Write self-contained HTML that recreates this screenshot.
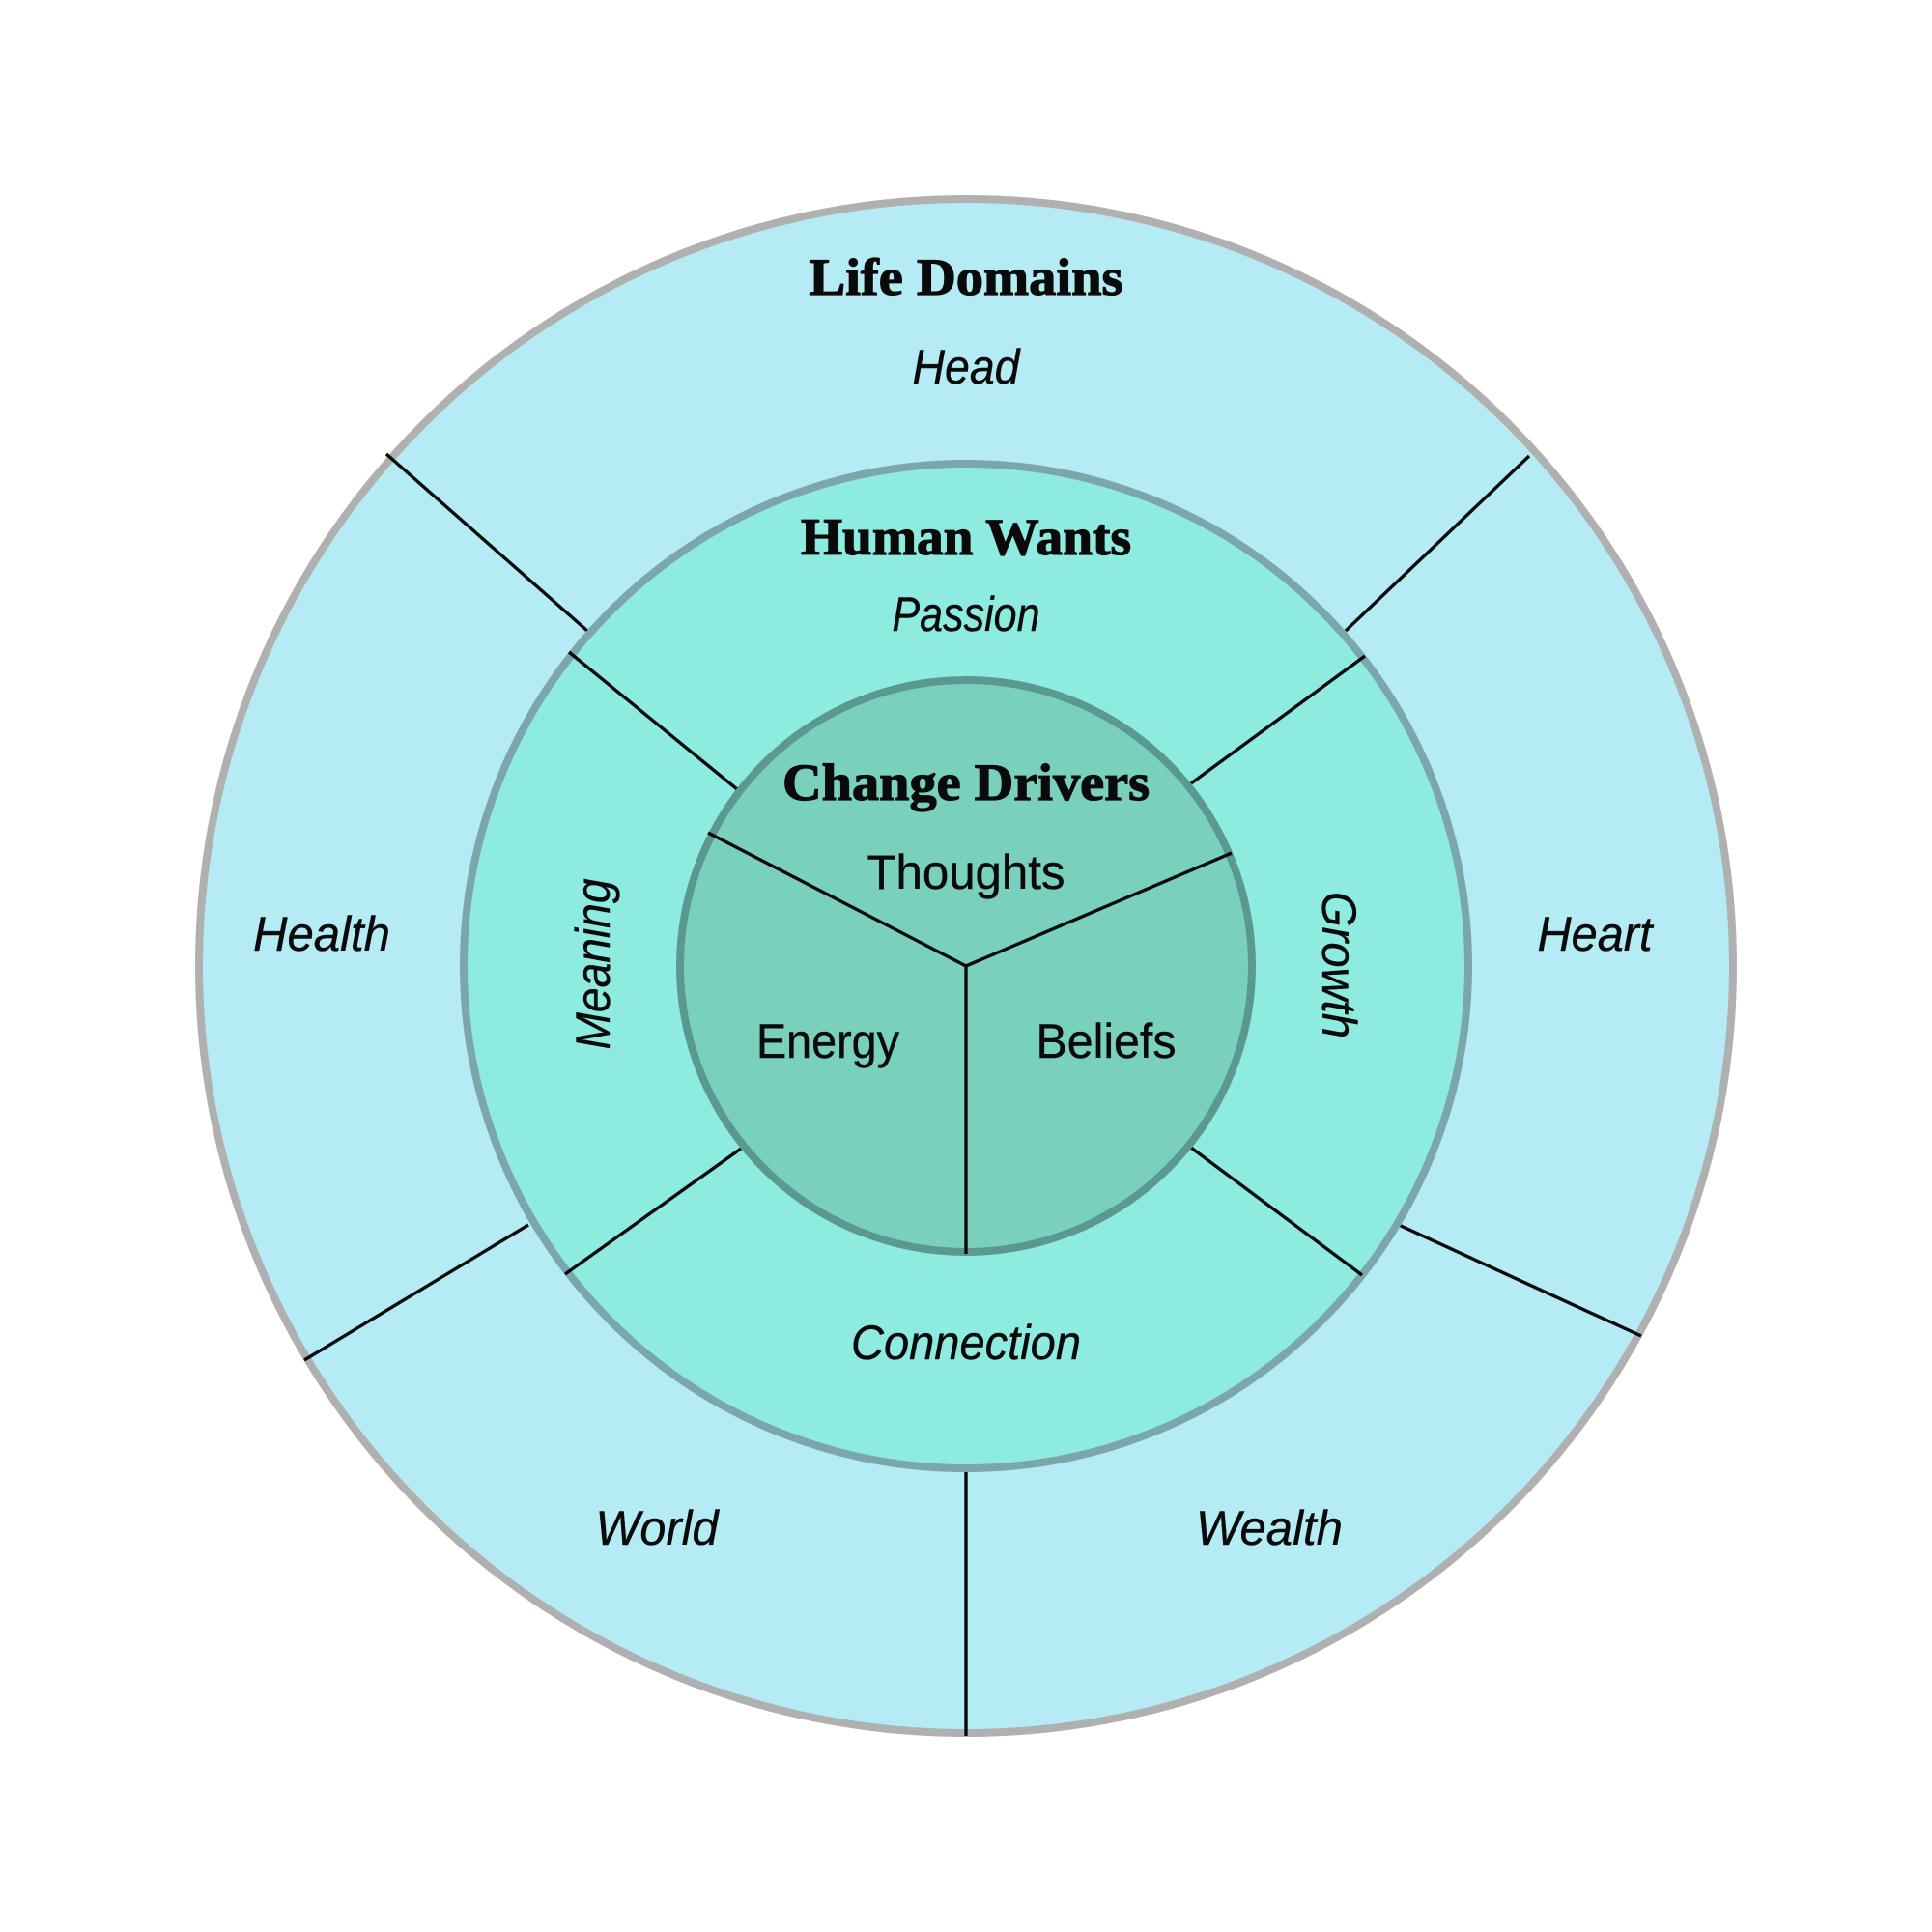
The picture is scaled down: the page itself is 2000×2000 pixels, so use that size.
<!DOCTYPE html>
<html>
<head>
<meta charset="utf-8">
<style>
  html, body { margin: 0; padding: 0; background: #ffffff; }
  svg { display: block; }
  .hd { font-family: "Liberation Serif", serif; font-weight: bold; font-size: 54px; fill: #0a0a0a; stroke: #0a0a0a; stroke-width: 1.2px; }
  .it { font-family: "Liberation Sans", sans-serif; font-style: italic; font-size: 50px; fill: #0a0a0a; stroke: #0a0a0a; stroke-width: 0.4px; }
  .rg { font-family: "Liberation Sans", sans-serif; font-size: 50px; fill: #0a0a0a; stroke: #0a0a0a; stroke-width: 0.4px; }
</style>
</head>
<body>
<svg width="2000" height="2000" viewBox="0 0 2000 2000" xmlns="http://www.w3.org/2000/svg">
  <rect x="0" y="0" width="2000" height="2000" fill="#ffffff"/>

  <!-- Outer ring -->
  <circle cx="1000" cy="1000" r="794" fill="#b4ebf4" stroke="#b0b0b0" stroke-width="8"/>
  <g stroke="#0a0a0a" stroke-width="3.4" stroke-linecap="butt">
    <line x1="400" y1="470" x2="608" y2="653"/>
    <line x1="1583" y1="472" x2="1393" y2="653"/>
    <line x1="1699" y1="1383" x2="1448" y2="1268"/>
    <line x1="315" y1="1408" x2="547" y2="1268"/>
    <line x1="1000" y1="1523" x2="1000" y2="1797"/>
  </g>

  <!-- Middle ring -->
  <circle cx="1000" cy="1000" r="520" fill="#8eebdf" stroke="#7ba6ac" stroke-width="8"/>
  <g stroke="#0a0a0a" stroke-width="3.4">
    <line x1="589" y1="675" x2="763" y2="817"/>
    <line x1="1413" y1="679" x2="1233" y2="811"/>
    <line x1="1410" y1="1320" x2="1233" y2="1188"/>
    <line x1="585" y1="1319" x2="767" y2="1189"/>
  </g>

  <!-- Inner circle -->
  <circle cx="1000" cy="1000" r="296" fill="#79d1bd" stroke="#5b9990" stroke-width="8"/>
  <g stroke="#0a0a0a" stroke-width="3.4" stroke-linejoin="miter">
    <polyline points="733,862 1000,1000 1275,883" fill="none"/>
    <line x1="1000" y1="1000" x2="1000" y2="1298"/>
  </g>

  <!-- Headings -->
  <text class="hd" x="1000" y="305" text-anchor="middle" textLength="325" lengthAdjust="spacingAndGlyphs">Life Domains</text>
  <text class="hd" x="1000" y="574" text-anchor="middle" textLength="342" lengthAdjust="spacingAndGlyphs">Human Wants</text>
  <text class="hd" x="1000" y="828" text-anchor="middle" textLength="380" lengthAdjust="spacingAndGlyphs">Change Drivers</text>

  <!-- Outer ring labels -->
  <text class="it" x="1000" y="397" text-anchor="middle" textLength="111" lengthAdjust="spacingAndGlyphs">Head</text>
  <text class="it" x="333" y="984" text-anchor="middle" textLength="142" lengthAdjust="spacingAndGlyphs">Health</text>
  <text class="it" x="1651" y="984" text-anchor="middle" textLength="119" lengthAdjust="spacingAndGlyphs">Heart</text>
  <text class="it" x="680" y="1599" text-anchor="middle" textLength="127" lengthAdjust="spacingAndGlyphs">World</text>
  <text class="it" x="1314" y="1599" text-anchor="middle" textLength="152" lengthAdjust="spacingAndGlyphs">Wealth</text>

  <!-- Middle ring labels -->
  <text class="it" x="1000" y="653" text-anchor="middle" textLength="153" lengthAdjust="spacingAndGlyphs">Passion</text>
  <text class="it" x="1000" y="1407" text-anchor="middle" textLength="238" lengthAdjust="spacingAndGlyphs">Connection</text>
  <text class="it" transform="translate(631,998) rotate(-90)" text-anchor="middle" textLength="177" lengthAdjust="spacingAndGlyphs">Meaning</text>
  <text class="it" transform="translate(1369,999) rotate(90)" text-anchor="middle" textLength="152" lengthAdjust="spacingAndGlyphs">Growth</text>

  <!-- Inner labels -->
  <text class="rg" x="1000" y="920" text-anchor="middle" textLength="205" lengthAdjust="spacingAndGlyphs">Thoughts</text>
  <text class="rg" x="857" y="1095" text-anchor="middle" textLength="148" lengthAdjust="spacingAndGlyphs">Energy</text>
  <text class="rg" x="1145" y="1095" text-anchor="middle" textLength="145" lengthAdjust="spacingAndGlyphs">Beliefs</text>
</svg>
</body>
</html>
